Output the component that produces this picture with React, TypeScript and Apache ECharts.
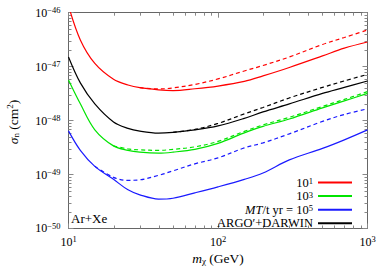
import React, { useEffect, useRef } from 'react';
import * as echarts from 'echarts';

// WIMP mass grid (GeV)
const massGeV = [10, 12, 15, 20, 25, 30, 40, 50, 70, 100, 150, 200, 300, 500, 700, 1000];

// MT/t yr = 10^1 (red)
const red1Solid = [1.35e-46, 3.13e-47, 1.15e-47, 5.85e-48, 4.58e-48, 4.07e-48, 3.72e-48, 3.6e-48, 3.89e-48, 4.37e-48, 5.32e-48, 6.73e-48, 9.66e-48, 1.58e-47, 2.2e-47, 2.86e-47];
const red1Dashed = [null, null, null, null, null, 4.07e-48, 3.86e-48, 4.04e-48, 4.68e-48, 5.92e-48, 8.32e-48, 1.05e-47, 1.51e-47, 2.58e-47, 3.47e-47, 4.79e-47];
// MT/t yr = 10^3 (green)
const green3Solid = [5.68e-48, 2.05e-48, 6.76e-49, 3.4e-49, 2.81e-49, 2.6e-49, 2.49e-49, 2.6e-49, 2.93e-49, 3.78e-49, 5.92e-49, 7.82e-49, 1.07e-48, 1.72e-48, 2.32e-48, 3.19e-48];
const green3Dashed = [null, null, null, 3.4e-49, 2.99e-49, 2.87e-49, 2.81e-49, 2.93e-49, 3.26e-49, 4.12e-49, 6.31e-49, 8.32e-49, 1.15e-48, 1.83e-48, 2.47e-48, 3.44e-48];
// MT/t yr = 10^5 (blue)
const blue5Solid = [6.45e-49, 2.81e-49, 1.42e-49, 8.15e-50, 5.21e-50, 4.21e-50, 3.51e-50, 3.64e-50, 4.58e-50, 5.92e-50, 8.15e-50, 1.07e-49, 1.87e-49, 3.05e-49, 4.4e-49, 6.73e-49];
const blue5Dashed = [null, null, 1.42e-49, 8.87e-50, 7.82e-50, 7.98e-50, 9.66e-50, 1.17e-49, 1.58e-49, 2.04e-49, 3.12e-49, 3.86e-49, 5.68e-49, 9.66e-49, 1.3e-48, 1.65e-48];
// ARGO'+DARWIN (black)
const argoSolid = [1.51e-47, 5.0e-48, 2.04e-48, 9.46e-49, 7.18e-49, 6.37e-49, 5.85e-49, 6.05e-49, 6.73e-49, 7.98e-49, 1.1e-48, 1.45e-48, 2.04e-48, 3.19e-48, 4.12e-48, 5.43e-48];
const argoDashed = [null, null, null, null, null, null, null, 6.05e-49, 6.87e-49, 8.87e-49, 1.33e-48, 1.75e-48, 2.63e-48, 4.12e-48, 5.43e-48, 7.18e-48];

// axis ranges and minor tick layout
const X_MIN = 10;
const X_MAX = 1000;
const Y_MIN = 1e-50;
const Y_MAX = 1e-46;
const tickMultipliers = [2, 3, 4, 5, 6, 7, 8, 9];
const xDecadeStarts = [10, 100];
const yDecadeStarts = [1e-50, 1e-49, 1e-48, 1e-47];

const legendNames = ['MT = 10^1', 'MT = 10^3', 'MT = 10^5', "ARGO'+DARWIN"];
const legendLabels: Record<string, string> = {
  'MT = 10^1': '{n|10}{s|1}',
  'MT = 10^3': '{n|10}{s|3}',
  'MT = 10^5': '{i|MT}{n|/t yr = 10}{s|5}',
  "ARGO'+DARWIN": '{n|ARGO′+DARWIN}',
};

const FONT = '"Liberation Serif", "DejaVu Serif", serif';
const AXIS_COLOR = '#666';
const TICK_COLOR = '#888';
const RED = '#ff0000';
const GREEN = '#00e400';
const BLUE = '#1a1aff';
const BLACK = '#000000';

const tickRich: any = {
  n: { fontFamily: FONT, fontSize: 12, lineHeight: 14, color: '#000' },
  s: { fontFamily: FONT, fontSize: 8.5, lineHeight: 8, verticalAlign: 'top', color: '#000' },
};
const legendRich: any = {
  n: { fontFamily: FONT, fontSize: 12.5, lineHeight: 12, color: '#000' },
  i: { fontFamily: FONT, fontSize: 12.5, lineHeight: 12, fontStyle: 'italic', color: '#000' },
  s: { fontFamily: FONT, fontSize: 8.5, lineHeight: 6.5, verticalAlign: 'top', color: '#000' },
};
const nameRich: any = {
  n: { fontFamily: FONT, fontSize: 13.5, lineHeight: 15, color: '#000' },
  i: { fontFamily: FONT, fontSize: 13.5, lineHeight: 15, fontStyle: 'italic', color: '#000' },
  s: { fontFamily: FONT, fontSize: 9, lineHeight: 9, verticalAlign: 'top', color: '#000' },
  sub: { fontFamily: FONT, fontSize: 9, lineHeight: 9, verticalAlign: 'bottom', color: '#000' },
};

function pairs(ys: (number | null)[]) {
  const out: number[][] = [];
  massGeV.forEach((m, i) => {
    const v = ys[i];
    if (v !== null) out.push([m, v]);
  });
  return out;
}

function powLabel(v: number) {
  const e = Math.round(Math.log10(v));
  return `{n|10}{s|${e < 0 ? '−' : ''}${Math.abs(e)}}`;
}

function lineSeries(name: string, ys: (number | null)[], color: string, dashed: boolean) {
  return {
    type: 'line',
    name,
    data: pairs(ys),
    xAxisIndex: 0,
    yAxisIndex: 0,
    showSymbol: false,
    symbol: 'none',
    smooth: 0.35,
    clip: true,
    lineStyle: { color, width: 1.2, type: dashed ? [4, 3] : 'solid' },
    itemStyle: { color },
    z: dashed ? 3 : 2,
  };
}

export default function App() {
  const ref = useRef<HTMLDivElement>(null);
  useEffect(() => {
    if (!ref.current) return;
    const chart = echarts.init(ref.current, undefined, { renderer: 'svg' });

    const minorX = xDecadeStarts.flatMap((d) => tickMultipliers.map((m) => d * m));
    const minorY = yDecadeStarts.flatMap((d) => tickMultipliers.map((m) => d * m));

    const axisCommon = {
      axisLine: { show: true, onZero: false, lineStyle: { color: AXIS_COLOR, width: 1 } },
      axisTick: { show: true, inside: true, length: 5, lineStyle: { color: TICK_COLOR, width: 1 } },
      splitLine: { show: false },
    };
    // tiny widening so the bottom decade tick (10^-50) survives log rounding
    const yAxisMin = Y_MIN * 0.99999;

    const option: any = {
      animation: false,
      backgroundColor: '#fff',
      grid: { left: 68.5, right: 22.5, top: 12.7, bottom: 41.5, containLabel: false, outerBoundsMode: 'none' },
      xAxis: [
        {
          type: 'log',
          logBase: 10,
          min: X_MIN,
          max: X_MAX,
          position: 'bottom',
          ...axisCommon,
          axisLabel: { formatter: powLabel, rich: tickRich, margin: 6 },
          name: '{i|m}{sub|χ}{n| (GeV)}',
          nameLocation: 'middle',
          nameGap: 22,
          nameMoveOverlap: false,
          nameTextStyle: { rich: nameRich },
        },
        {
          type: 'log',
          logBase: 10,
          min: X_MIN,
          max: X_MAX,
          position: 'top',
          ...axisCommon,
          axisLabel: { show: false },
        },
      ],
      yAxis: [
        {
          type: 'log',
          logBase: 10,
          min: yAxisMin,
          max: Y_MAX,
          position: 'left',
          ...axisCommon,
          axisLabel: { formatter: powLabel, rich: tickRich, margin: 8 },
        },
        {
          type: 'log',
          logBase: 10,
          min: yAxisMin,
          max: Y_MAX,
          position: 'right',
          ...axisCommon,
          axisLabel: { show: false },
        },
      ],
      legend: {
        data: legendNames,
        orient: 'vertical',
        align: 'right',
        right: 37,
        top: 176,
        padding: 0,
        itemWidth: 34,
        itemHeight: 12,
        itemGap: 0.6,
        itemStyle: { color: 'rgba(0,0,0,0)', borderWidth: 0, opacity: 0 },
        formatter: (name: string) => legendLabels[name],
        textStyle: { rich: legendRich },
        selectedMode: false,
      },
      graphic: [
        {
          type: 'text',
          left: 71,
          top: 212,
          style: { text: 'Ar+Xe', font: `13px ${FONT}`, fill: '#000' },
        },
        {
          type: 'text',
          x: 13,
          y: 122,
          rotation: Math.PI / 2,
          style: {
            text: '{i|σ}{sub|n}{n| (cm}{s|2}{n|)}',
            rich: nameRich,
            align: 'center',
            verticalAlign: 'middle',
          },
        },
      ],
      series: [
        {
          type: 'custom',
          name: 'minorX',
          silent: true,
          xAxisIndex: 0,
          yAxisIndex: 0,
          data: minorX.map((v) => [v, Y_MIN]),
          renderItem: (_p: any, api: any) => {
            const x = api.value(0);
            const b = api.coord([x, Y_MIN]);
            const t = api.coord([x, Y_MAX]);
            const px = Math.round(b[0]) + 0.5;
            return {
              type: 'group',
              children: [
                { type: 'line', shape: { x1: px, y1: b[1], x2: px, y2: b[1] - 3 }, style: { stroke: TICK_COLOR, lineWidth: 1 } },
                { type: 'line', shape: { x1: px, y1: t[1], x2: px, y2: t[1] + 3 }, style: { stroke: TICK_COLOR, lineWidth: 1 } },
              ],
            };
          },
          z: 1,
        },
        {
          type: 'custom',
          name: 'minorY',
          silent: true,
          xAxisIndex: 0,
          yAxisIndex: 0,
          data: minorY.map((v) => [X_MIN, v]),
          renderItem: (_p: any, api: any) => {
            const y = api.value(1);
            const l = api.coord([X_MIN, y]);
            const r = api.coord([X_MAX, y]);
            const py = Math.round(l[1]) + 0.5;
            return {
              type: 'group',
              children: [
                { type: 'line', shape: { x1: l[0], y1: py, x2: l[0] + 3, y2: py }, style: { stroke: TICK_COLOR, lineWidth: 1 } },
                { type: 'line', shape: { x1: r[0], y1: py, x2: r[0] - 3, y2: py }, style: { stroke: TICK_COLOR, lineWidth: 1 } },
              ],
            };
          },
          z: 1,
        },
        lineSeries('MT = 10^1', red1Solid, RED, false),
        lineSeries('MT = 10^1 (dashed)', red1Dashed, RED, true),
        lineSeries('MT = 10^3', green3Solid, GREEN, false),
        lineSeries('MT = 10^3 (dashed)', green3Dashed, GREEN, true),
        lineSeries('MT = 10^5', blue5Solid, BLUE, false),
        lineSeries('MT = 10^5 (dashed)', blue5Dashed, BLUE, true),
        lineSeries("ARGO'+DARWIN", argoSolid, BLACK, false),
        lineSeries("ARGO'+DARWIN (dashed)", argoDashed, BLACK, true),
      ],
    };

    chart.setOption(option);
    return () => chart.dispose();
  }, []);

  return (
    <div
      ref={ref}
      style={{ position: 'fixed', left: 0, top: 0, width: 390, height: 270, background: '#fff' }}
    />
  );
}
